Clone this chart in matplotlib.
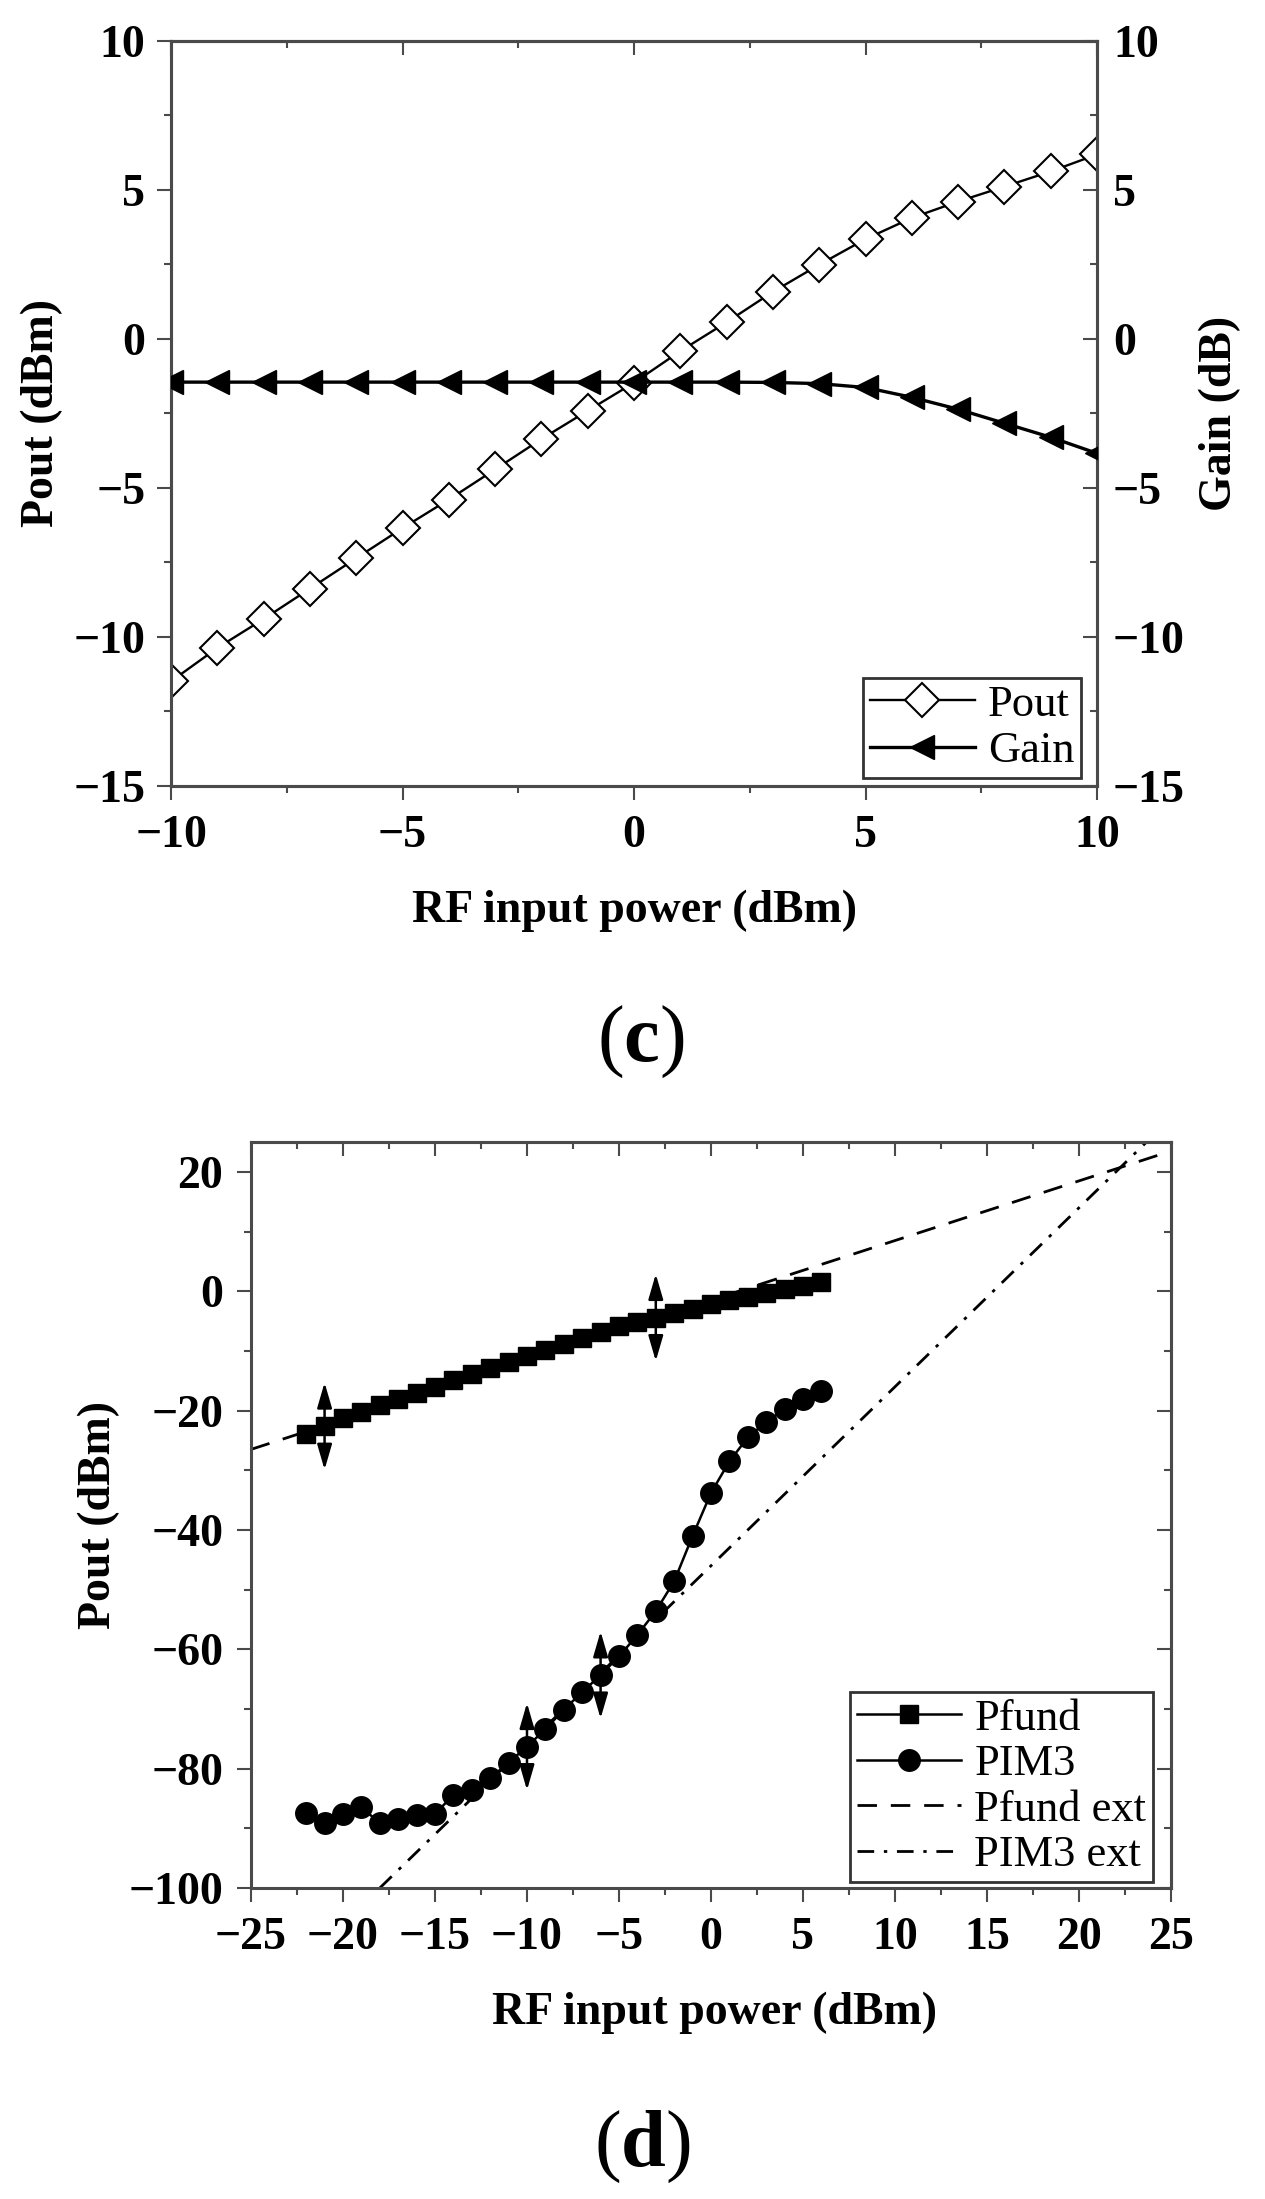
import matplotlib
matplotlib.use('Agg')
import matplotlib.pyplot as plt
from matplotlib.ticker import MultipleLocator

# ---------------- panel (c) data ----------------
pin_c = [-10, -9, -8, -7, -6, -5, -4, -3, -2, -1, 0, 1, 2, 3, 4, 5, 6, 7, 8, 9, 10]
pout_c = [-11.49, -10.37, -9.40, -8.38, -7.36, -6.35, -5.39, -4.38, -3.36, -2.41, -1.47,
          -0.41, 0.56, 1.58, 2.49, 3.35, 4.06, 4.61, 5.11, 5.62, 6.19]
gain_c = [-1.45, -1.45, -1.45, -1.45, -1.45, -1.45, -1.45, -1.45, -1.45, -1.45, -1.45,
          -1.45, -1.45, -1.46, -1.50, -1.63, -1.96, -2.36, -2.83, -3.30, -3.84]

# ---------------- panel (d) data ----------------
pin_d = [-22, -21, -20, -19, -18, -17, -16, -15, -14, -13, -12, -11, -10, -9, -8,
         -7, -6, -5, -4, -3, -2, -1, 0, 1, 2, 3, 4, 5, 6]
pfund = [-24.0, -22.6, -21.2, -20.2, -19.0, -18.0, -17.0, -16.0, -14.9, -13.9, -12.9,
         -11.9, -10.8, -9.8, -8.8, -7.8, -6.8, -5.9, -5.1, -4.4, -3.6, -2.9, -2.2,
         -1.5, -0.9, -0.3, 0.3, 0.9, 1.5]
pim3 = [-87.4, -89.1, -87.6, -86.5, -89.1, -88.4, -87.8, -87.6, -84.4, -83.6, -81.6,
        -79.0, -76.3, -73.4, -70.1, -67.2, -64.3, -61.2, -57.6, -53.6, -48.6, -41.0,
        -33.8, -28.5, -24.5, -21.9, -19.8, -18.1, -16.7]
pfund_ext_x = [-25, 25]
pfund_ext_y = [-26.5, 23.5]
pim3_ext_x = [-18, 23.7]
pim3_ext_y = [-100, 25.1]
pfund_arrow_x = [-21, -3]
pim3_arrow_x = [-10, -6]
arrow_half = 7.3

labels_c = ['Pout', 'Gain']
labels_d = ['Pfund', 'PIM3', 'Pfund ext', 'PIM3 ext']

# ---------------- style ----------------
plt.rcParams['font.family'] = ['Liberation Serif', 'DejaVu Serif']
plt.rcParams['font.weight'] = 'bold'
plt.rcParams['mathtext.fontset'] = 'custom'
plt.rcParams['mathtext.rm'] = 'Liberation Serif:normal'
plt.rcParams['mathtext.bf'] = 'Liberation Serif:bold'

SPINE = '#4a4a4a'
TICK_FS = 33
LAB_FS = 33
LEG_FS = 32
MAJ_L, MIN_L, TW = 10, 4.8, 1.5
ARROW = dict(arrowstyle='<|-|>,head_length=0.55,head_width=0.16', color='black',
             lw=1.8, shrinkA=0, shrinkB=0, mutation_scale=28)

fig = plt.figure(figsize=(12.65, 21.99), dpi=100)


def style_spines(ax):
    for s in ax.spines.values():
        s.set_color(SPINE)
        s.set_linewidth(2.2)


# ================= panel (c) =================
ax1 = fig.add_axes([0.1352, 0.6426, 0.7320, 0.3388])
ax1.plot(pin_c, pout_c, color='black', lw=1.7, marker='D', ms=17, mfc='white',
         mec='black', mew=1.5, label=labels_c[0], zorder=3)
ax1.set_xlim(-10, 10)
ax1.set_ylim(-15, 10)
ax1.xaxis.set_major_locator(MultipleLocator(5))
ax1.xaxis.set_minor_locator(MultipleLocator(2.5))
ax1.yaxis.set_major_locator(MultipleLocator(5))
ax1.yaxis.set_minor_locator(MultipleLocator(2.5))
ax1.tick_params(axis='x', which='major', direction='out', length=MAJ_L, width=TW,
                pad=11, labelsize=TICK_FS, color=SPINE, top=False)
ax1.tick_params(axis='x', which='minor', direction='out', length=MIN_L, width=TW,
                color=SPINE, top=False)
ax1.tick_params(axis='y', which='major', direction='out', length=MAJ_L, width=TW,
                pad=8.5, labelsize=TICK_FS, color=SPINE, right=False)
ax1.tick_params(axis='y', which='minor', direction='out', length=MIN_L, width=TW,
                color=SPINE, right=False)
style_spines(ax1)

sec1 = ax1.secondary_xaxis('top')
sec1.xaxis.set_major_locator(MultipleLocator(5))
sec1.xaxis.set_minor_locator(MultipleLocator(2.5))
sec1.tick_params(axis='x', which='both', direction='in', labeltop=False, width=TW, color=SPINE)
sec1.tick_params(axis='x', which='major', length=MAJ_L)
sec1.tick_params(axis='x', which='minor', length=MIN_L)
for s in sec1.spines.values():
    s.set_color(SPINE)
    s.set_linewidth(2.2)

ax2 = ax1.twinx()
ax2.plot(pin_c, gain_c, color='black', lw=2.4, marker='<', ms=17, mfc='black',
         mec='black', label=labels_c[1], zorder=3)
ax2.set_ylim(-15, 10)
ax2.yaxis.set_major_locator(MultipleLocator(5))
ax2.yaxis.set_minor_locator(MultipleLocator(2.5))
ax2.tick_params(axis='y', which='major', direction='in', length=MAJ_L, width=TW,
                pad=11.5, labelsize=TICK_FS, color=SPINE)
ax2.tick_params(axis='y', which='minor', direction='in', length=MIN_L, width=TW, color=SPINE)
style_spines(ax2)

h1, l1 = ax1.get_legend_handles_labels()
h2, l2 = ax2.get_legend_handles_labels()
leg1 = ax2.legend(h1 + h2, l1 + l2, loc='lower right', bbox_to_anchor=(0.8545, 0.6462),
                  bbox_transform=fig.transFigure, borderaxespad=0,
                  prop={'family': 'Liberation Serif', 'weight': 'normal', 'size': LEG_FS},
                  frameon=True, fancybox=False, framealpha=1, edgecolor='#333333',
                  handlelength=2.35, handletextpad=0.3, labelspacing=0.15, borderpad=0.15)
leg1.get_frame().set_linewidth(2.0)

fig.text(0.0332, 0.8122, 'Pout (dBm)', rotation=90, ha='center', va='center',
         fontsize=LAB_FS, fontweight='bold')
fig.text(0.9644, 0.8122, 'Gain (dB)', rotation=90, ha='center', va='center',
         fontsize=LAB_FS, fontweight='bold')
fig.text(0.5012, 0.5860, 'RF input power (dBm)', ha='center', va='center',
         fontsize=LAB_FS, fontweight='bold')
fig.text(0.5067, 0.5261, r'$\mathrm{(}\mathbf{c}\mathrm{)}$', ha='center', va='center',
         fontsize=58)

# ================= panel (d) =================
ax3 = fig.add_axes([0.1984, 0.14143, 0.7273, 0.3392])
l_fe, = ax3.plot(pfund_ext_x, pfund_ext_y, color='black', lw=2.0, ls=(0, (7, 5)),
                 label=labels_d[2], zorder=2)
l_pe, = ax3.plot(pim3_ext_x, pim3_ext_y, color='black', lw=2.0, ls=(0, (6, 3.5, 1.2, 3.5)),
                 label=labels_d[3], zorder=2)
l_pf, = ax3.plot(pin_d, pfund, color='black', lw=1.8, marker='s', ms=13,
                 label=labels_d[0], zorder=3)
l_pi, = ax3.plot(pin_d, pim3, color='black', lw=1.8, marker='o', ms=15.5,
                 label=labels_d[1], zorder=3)

for xa in pfund_arrow_x:
    ya = pfund[pin_d.index(xa)]
    ax3.annotate('', xy=(xa, ya + arrow_half), xytext=(xa, ya - arrow_half),
                 arrowprops=ARROW, zorder=4)
for xa in pim3_arrow_x:
    ya = pim3[pin_d.index(xa)]
    ax3.annotate('', xy=(xa, ya + arrow_half), xytext=(xa, ya - arrow_half),
                 arrowprops=ARROW, zorder=4)

ax3.set_xlim(-25, 25)
ax3.set_ylim(-100, 25)
ax3.xaxis.set_major_locator(MultipleLocator(5))
ax3.xaxis.set_minor_locator(MultipleLocator(2.5))
ax3.yaxis.set_major_locator(MultipleLocator(20))
ax3.yaxis.set_minor_locator(MultipleLocator(10))
ax3.tick_params(axis='x', which='major', direction='out', length=MAJ_L, width=TW,
                pad=11, labelsize=TICK_FS, color=SPINE, top=False)
ax3.tick_params(axis='x', which='minor', direction='out', length=MIN_L, width=TW,
                color=SPINE, top=False)
ax3.tick_params(axis='y', which='major', direction='out', length=MAJ_L, width=TW,
                pad=10, labelsize=TICK_FS, color=SPINE, right=False)
ax3.tick_params(axis='y', which='minor', direction='out', length=MIN_L, width=TW,
                color=SPINE, right=False)
style_spines(ax3)

sec3x = ax3.secondary_xaxis('top')
sec3x.xaxis.set_major_locator(MultipleLocator(5))
sec3x.xaxis.set_minor_locator(MultipleLocator(2.5))
sec3x.tick_params(axis='x', which='both', direction='in', labeltop=False, width=TW, color=SPINE)
sec3x.tick_params(axis='x', which='major', length=MAJ_L)
sec3x.tick_params(axis='x', which='minor', length=MIN_L)
sec3y = ax3.secondary_yaxis('right')
sec3y.yaxis.set_major_locator(MultipleLocator(20))
sec3y.yaxis.set_minor_locator(MultipleLocator(10))
sec3y.tick_params(axis='y', which='both', direction='in', labelright=False, width=TW, color=SPINE)
sec3y.tick_params(axis='y', which='major', length=MAJ_L)
sec3y.tick_params(axis='y', which='minor', length=MIN_L)
for sec in (sec3x, sec3y):
    for s in sec.spines.values():
        s.set_color(SPINE)
        s.set_linewidth(2.2)

leg2 = ax3.legend([l_pf, l_pi, l_fe, l_pe], labels_d, loc='lower right',
                  bbox_to_anchor=(0.9115, 0.1442), bbox_transform=fig.transFigure,
                  borderaxespad=0,
                  prop={'family': 'Liberation Serif', 'weight': 'normal', 'size': LEG_FS},
                  frameon=True, fancybox=False, framealpha=1, edgecolor='#333333',
                  handlelength=2.35, handletextpad=0.3, labelspacing=0.12, borderpad=0.15)
leg2.get_frame().set_linewidth(2.0)
leg2.set_zorder(10)

fig.text(0.0783, 0.311, 'Pout (dBm)', rotation=90, ha='center', va='center',
         fontsize=LAB_FS, fontweight='bold')
fig.text(0.565, 0.0846, 'RF input power (dBm)', ha='center', va='center',
         fontsize=LAB_FS, fontweight='bold')
fig.text(0.5075, 0.0236, r'$\mathrm{(}\mathbf{d}\mathrm{)}$', ha='center', va='center',
         fontsize=58)

fig.savefig('out.png', dpi=100)
